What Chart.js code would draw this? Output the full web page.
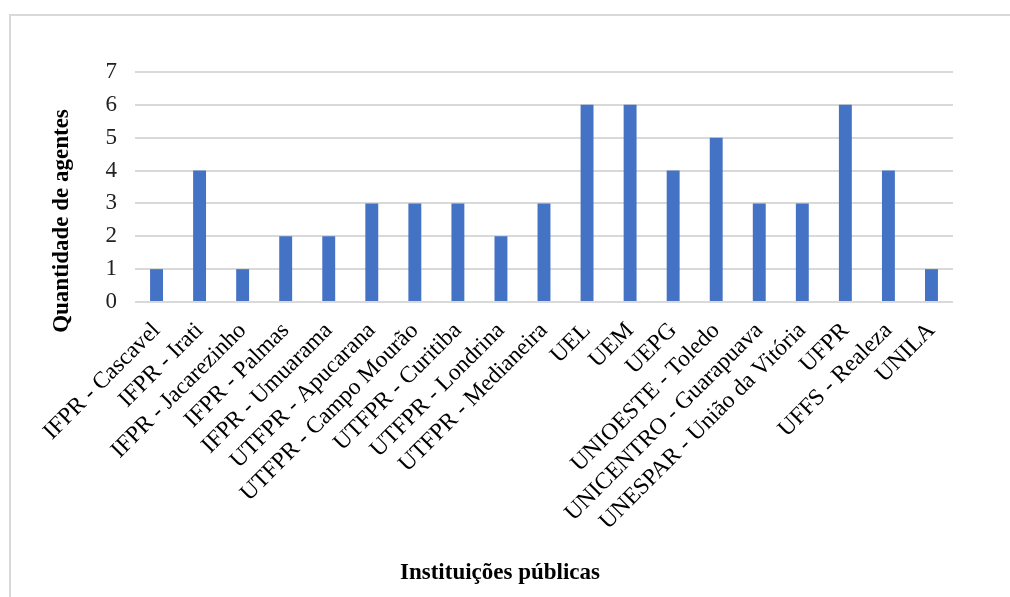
<!DOCTYPE html>
<html>
<head>
<meta charset="utf-8">
<script src="https://cdn.jsdelivr.net/npm/chart.js@4.4.1/dist/chart.umd.min.js"></script>
<style>
  html, body { margin: 0; padding: 0; background: #fff; overflow: hidden; }
  #wrap { position: relative; width: 1010px; height: 597px; }
  #frame { position: absolute; left: 9px; top: 14px; width: 1100px; height: 700px;
           border-left: 2px solid #d9d9d9; border-top: 2px solid #d9d9d9; }
  #chart { position: absolute; left: 0; top: 0; }
</style>
</head>
<body>
<div id="wrap">
  <div id="frame"></div>
  <canvas id="chart" width="1010" height="597"></canvas>
</div>
<script>
var institutions = [
  'IFPR - Cascavel', 'IFPR - Irati', 'IFPR - Jacarezinho', 'IFPR - Palmas', 'IFPR - Umuarama',
  'UTFPR - Apucarana', 'UTFPR - Campo Mourão', 'UTFPR - Curitiba', 'UTFPR - Londrina', 'UTFPR - Medianeira',
  'UEL', 'UEM', 'UEPG', 'UNIOESTE - Toledo', 'UNICENTRO - Guarapuava',
  'UNESPAR - União da Vitória', 'UFPR', 'UFFS - Realeza', 'UNILA'
];
var agents = [1, 4, 1, 2, 2, 3, 3, 3, 2, 3, 6, 6, 4, 5, 3, 3, 6, 4, 1];
var yRange = [0, 7];
var xTitle = 'Instituições públicas';
var yTitle = 'Quantidade de agentes';

var serif = "'Liberation Serif', 'Times New Roman', serif";

// axis titles drawn by hand, the Excel original sits them off-centre
var axisTitles = {
  id: 'axisTitles',
  afterDraw: function(chart) {
    var c = chart.ctx, a = chart.chartArea;
    c.save();
    c.fillStyle = '#000';
    c.font = 'bold 23px ' + serif;
    c.textAlign = 'center';
    c.textBaseline = 'middle';
    c.fillText(xTitle, a.left + 365, 573);
    c.translate(a.left - 73, (a.top + a.bottom) / 2 + 34);
    c.rotate(-Math.PI / 2);
    c.fillText(yTitle, 0, 0);
    c.restore();
  }
};

var ctx = document.getElementById('chart').getContext('2d');
var chart = new Chart(ctx, {
  type: 'bar',
  data: {
    labels: institutions,
    datasets: [{
      data: agents,
      backgroundColor: '#4472C4',
      borderWidth: 0,
      categoryPercentage: 1,
      barPercentage: 0.3
    }]
  },
  options: {
    responsive: false,
    animation: false,
    layout: {
      padding: { left: 40, right: 57, top: 72, bottom: 10 }
    },
    scales: {
      x: {
        grid: { display: false },
        border: { display: false },
        ticks: {
          autoSkip: false,
          maxRotation: 45,
          minRotation: 45,
          padding: 7,
          color: '#000',
          font: { family: serif, size: 23.5 }
        },
        afterFit: function(scale) { scale.height = 285; }
      },
      y: {
        min: yRange[0],
        max: yRange[1],
        grid: { color: '#d9d9d9', lineWidth: 2, drawTicks: false },
        border: { display: false },
        ticks: {
          stepSize: 1,
          padding: 18,
          color: '#222',
          font: { family: serif, size: 23 }
        },
        afterFit: function(scale) { scale.width = 95; }
      }
    },
    plugins: {
      legend: { display: false },
      tooltip: { enabled: false }
    }
  },
  plugins: [axisTitles]
});
</script>
</body>
</html>
